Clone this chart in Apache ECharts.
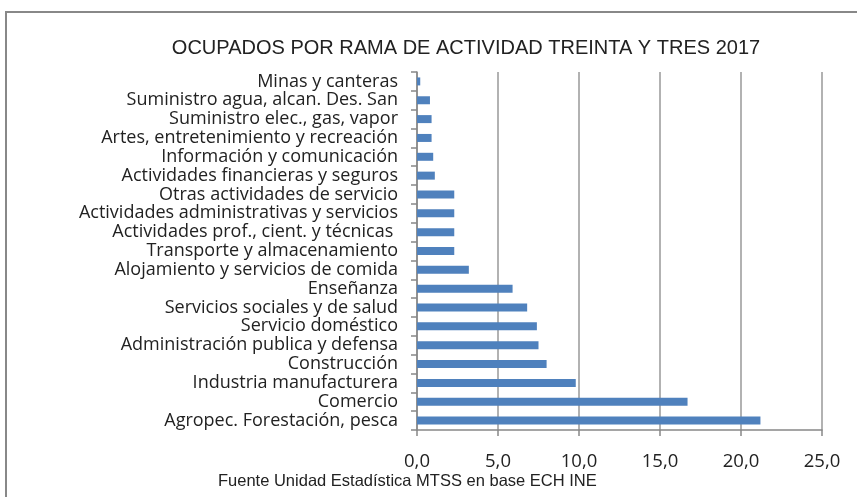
<!DOCTYPE html>
<html>
<head>
<meta charset="utf-8">
<script src="https://cdn.jsdelivr.net/npm/echarts@6/dist/echarts.min.js"></script>
<style>
  html, body { margin: 0; padding: 0; background: #fff; }
  #chart { width: 857px; height: 497px; }
</style>
</head>
<body>
<div id="chart"></div>
<script>
// ramas de actividad, de arriba hacia abajo
const categories = [
  'Minas y canteras',
  'Suministro agua, alcan. Des. San',
  'Suministro elec., gas, vapor',
  'Artes, entretenimiento y recreación',
  'Información y comunicación',
  'Actividades financieras y seguros',
  'Otras actividades de servicio',
  'Actividades administrativas y servicios',
  'Actividades prof., cient. y técnicas ',
  'Transporte y almacenamiento',
  'Alojamiento y servicios de comida',
  'Enseñanza',
  'Servicios sociales y de salud',
  'Servicio doméstico',
  'Administración publica y defensa',
  'Construcción',
  'Industria manufacturera',
  'Comercio',
  'Agropec. Forestación, pesca'
]
// porcentaje de ocupados
const values = [0.2, 0.8, 0.9, 0.9, 1.0, 1.1, 2.3, 2.3, 2.3, 2.3, 3.2, 5.9, 6.8, 7.4, 7.5, 8.0, 9.8, 16.7, 21.2]
const xTicks = { min: 0, max: 25, interval: 5 }

const font = "'Liberation Sans', Arial, sans-serif"
const labelFont = "'Open Sans', 'Liberation Sans', sans-serif"
const chart = echarts.init(document.getElementById('chart'))

chart.setOption({
  animation: false,
  title: {
    text: 'OCUPADOS POR RAMA DE ACTIVIDAD TREINTA Y TRES 2017',
    left: 461,
    textAlign: 'center',
    top: 33,
    textStyle: { fontFamily: font, fontSize: 20, fontWeight: 'normal', color: '#222' }
  },
  grid: { left: 417, right: 35, top: 72, bottom: 67 },
  xAxis: {
    type: 'value',
    min: xTicks.min,
    max: xTicks.max,
    interval: xTicks.interval,
    axisLine: { show: true, lineStyle: { color: '#888', width: 1.5 } },
    axisTick: { show: true, length: 6, lineStyle: { color: '#888', width: 1.5 } },
    splitLine: { show: true, lineStyle: { color: '#999', width: 1.5 } },
    axisLabel: {
      margin: 22,
      fontFamily: labelFont,
      fontSize: 18.5,
      color: '#222',
      formatter: v => v.toFixed(1).replace('.', ',')
    }
  },
  yAxis: {
    type: 'category',
    inverse: true,
    data: categories,
    axisLine: { show: true, lineStyle: { color: '#888', width: 1.5 } },
    axisTick: { show: true, length: 6, lineStyle: { color: '#888', width: 1.5 } },
    axisLabel: { interval: 0, margin: 19, fontFamily: labelFont, fontSize: 18, color: '#222' }
  },
  series: [{
    type: 'bar',
    data: values,
    barWidth: 8,
    itemStyle: { color: '#4f81bd' }
  }],
  graphic: [
    {
      type: 'rect',
      shape: { x: 6, y: 12, width: 900, height: 520 },
      style: { fill: 'none', stroke: '#888', lineWidth: 2 }
    },
    {
      type: 'text',
      left: 218,
      top: 473,
      style: { text: 'Fuente Unidad Estadística MTSS en base ECH INE', font: '16.5px ' + font, fill: '#222' }
    }
  ]
})
</script>
</body>
</html>
